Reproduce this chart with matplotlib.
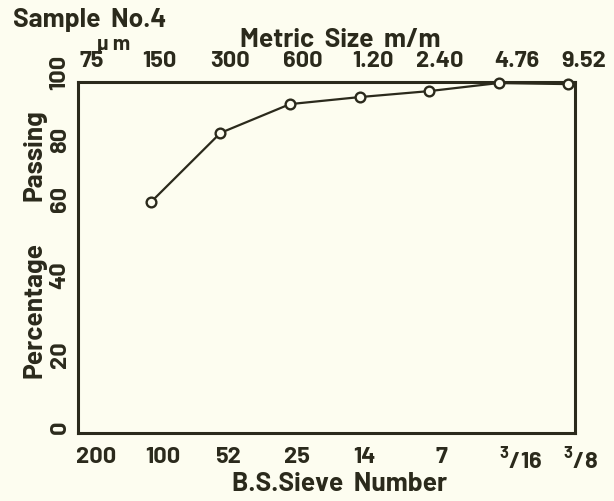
import matplotlib
matplotlib.use("Agg")
import matplotlib.pyplot as plt
from matplotlib.transforms import ScaledTranslation
from matplotlib import font_manager

# Data
sieve_index = [1, 2, 3, 4, 5, 6, 7]
percent_passing = [65.8, 85.5, 93.7, 95.7, 97.4, 99.7, 99.4]
tick_index = [0, 1, 2, 3, 4, 5, 6, 7]
bs_labels = ["200", "100", "52", "25", "14", "7", "$^3$/16", "$^3$/8"]
metric_labels = ["75", "150", "300", "600", "1.20", "2.40", "4.76", "9.52"]
y_ticks = [0, 20, 40, 60, 80, 100]

names = {f.name for f in font_manager.fontManager.ttflist}
fam = "Barlow" if "Barlow" in names else "DejaVu Sans"
plt.rcParams["font.family"] = [fam, "DejaVu Sans"]
plt.rcParams["mathtext.fontset"] = "custom"
plt.rcParams["mathtext.rm"] = fam + ":bold"
plt.rcParams["font.weight"] = "bold"

bg = "#fdfdf0"
ink = "#2b2a1c"

fig = plt.figure(figsize=(6.14, 5.01), dpi=100, facecolor=bg)
ax = fig.add_axes([78/614, 1-433/501, (575-78)/614, (433-82)/501])
ax.set_facecolor(bg)

ax.plot(sieve_index, percent_passing, color=ink, lw=1.6, marker="o",
        ms=7, mfc=bg, mec=ink, mew=1.7, zorder=3, clip_on=False)

ax.set_xlim(-0.05, 7.1)
ax.set_ylim(0, 100)
for s in ax.spines.values():
    s.set_color(ink)
    s.set_linewidth(2.2)

fs = 17
ax.set_xticks(tick_index)
ax.set_xticklabels(bs_labels, fontsize=fs, color=ink, fontweight="bold")
ax.tick_params(axis="x", length=0, pad=10)
offs = [15, 12, 7, 7, 5, 12, 22, 12]
for lab, o in zip(ax.get_xticklabels(), offs):
    lab.set_transform(lab.get_transform() + ScaledTranslation(o/100, 0, fig.dpi_scale_trans))

ax.set_yticks(y_ticks)
ax.set_yticklabels([str(v) for v in y_ticks], fontsize=fs, color=ink,
                   fontweight="bold", rotation=90, va="center")
ax.tick_params(axis="y", length=0, pad=6)
yoffs = [6, 8, 17, 23, 12, 10]
for lab, o in zip(ax.get_yticklabels(), yoffs):
    lab.set_transform(lab.get_transform() + ScaledTranslation(0, o/100, fig.dpi_scale_trans))

ax2 = ax.twiny()
ax2.set_xlim(ax.get_xlim())
ax2.set_xticks(tick_index)
ax2.set_xticklabels(metric_labels, fontsize=fs, color=ink, fontweight="bold")
ax2.tick_params(axis="x", length=0, pad=8)
offs2 = [10, 8, 10, 13, 13, 11, 18, 16]
for lab, o in zip(ax2.get_xticklabels(), offs2):
    lab.set_transform(lab.get_transform() + ScaledTranslation(o/100, 0, fig.dpi_scale_trans))
for s in ax2.spines.values():
    s.set_visible(False)

tfs = 19
fig.text(13/614, 1-20/501, "Sample  No.4", fontsize=tfs, color=ink, fontweight="bold",
         ha="left", va="center")
fig.text(114/614, 1-44/501, "µ m", fontsize=15, color=ink, fontweight="bold",
         ha="center", va="center")
fig.text(340/614, 1-40/501, "Metric  Size  m/m", fontsize=tfs, color=ink, fontweight="bold",
         ha="center", va="center")
fig.text(340/614, 1-484/501, "B.S.Sieve  Number", fontsize=tfs, color=ink, fontweight="bold",
         ha="center", va="center")
fig.text(35/614, 1-155/501, "Passing", fontsize=tfs, color=ink, fontweight="bold",
         ha="center", va="center", rotation=90)
fig.text(35/614, 1-310/501, "Percentage", fontsize=tfs, color=ink, fontweight="bold",
         ha="center", va="center", rotation=90)

fig.savefig("out.png", dpi=100, facecolor=bg)
